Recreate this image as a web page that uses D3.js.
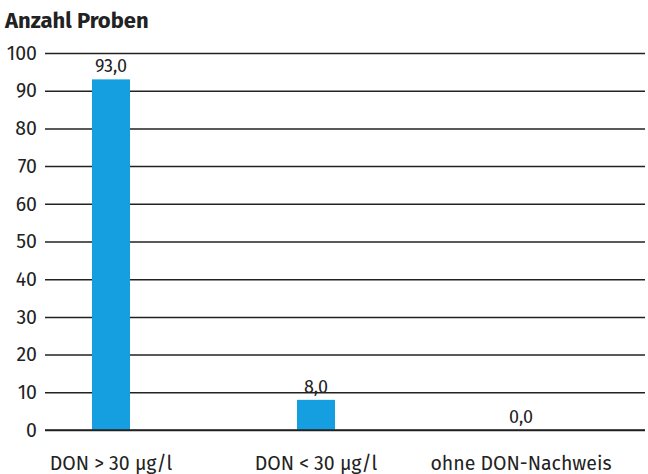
<!DOCTYPE html>
<html><head><meta charset="utf-8">
<script src="https://cdn.jsdelivr.net/npm/d3@7"></script>
<style>body{margin:0;background:#fff}svg{display:block}</style>
</head><body>
<svg id="c" width="648" height="474"></svg>
<script>
const categories = ["DON > 30 µg/l", "DON < 30 µg/l", "ohne DON-Nachweis"];
const values = [93.0, 8.0, 0.0];
const yTicks = [0,10,20,30,40,50,60,70,80,90,100];
const title = "Anzahl Proben";

const svg = d3.select("#c");
const font = "'Fira Sans','Noto Sans','Open Sans',sans-serif";
const y = d3.scaleLinear().domain([0,100]).range([430,53]);
const x = d3.scaleBand().domain(categories).range([8.5,623.5]).paddingInner(0.82).paddingOuter(0.41);
const bw = 38;

svg.append("text").attr("x",5).attr("y",28).text(title)
  .attr("font-family",font).attr("font-weight","bold").attr("font-size",22).attr("fill","#222");

const ax = svg.append("g").attr("transform","translate(45,0)")
  .call(d3.axisLeft(y).tickValues(yTicks).tickSize(-600).tickPadding(8));
ax.select(".domain").remove();
ax.selectAll(".tick line").attr("stroke","#222").attr("stroke-width",1.5);
ax.selectAll(".tick text").attr("font-family",font).attr("font-size",19.5).attr("fill","#222");

const cx = d => x(d) + x.bandwidth()/2;
svg.selectAll("rect.bar").data(categories).join("rect").attr("class","bar")
  .attr("x",d=>cx(d)-bw/2).attr("width",bw)
  .attr("y",(d,i)=>y(values[i])).attr("height",(d,i)=>y(0)-y(values[i]))
  .attr("fill","#159fe0");

svg.append("line").attr("x1",45).attr("x2",645).attr("y1",y(0)).attr("y2",y(0)).attr("stroke","#222").attr("stroke-width",1.5);

const fmt = v => v.toFixed(1).replace(".",",");
svg.selectAll("text.val").data(categories).join("text").attr("class","val")
  .attr("x",d=>cx(d)).attr("y",(d,i)=>y(values[i])-7)
  .attr("text-anchor","middle").text((d,i)=>fmt(values[i]))
  .attr("font-family",font).attr("font-size",18).attr("fill","#222");

svg.selectAll("text.cat").data(categories).join("text").attr("class","cat")
  .attr("x",d=>cx(d)).attr("y",470)
  .attr("text-anchor","middle").text(d=>d)
  .attr("font-family",font).attr("font-size",19.5).attr("fill","#222");
</script>
</body></html>
